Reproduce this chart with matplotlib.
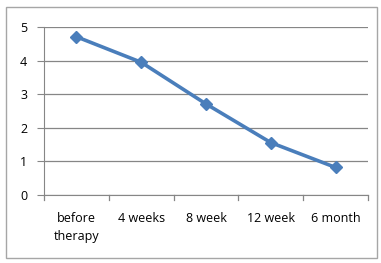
import matplotlib
matplotlib.use("Agg")
import matplotlib.pyplot as plt
from matplotlib.patches import Rectangle

categorias = ["before\ntherapy", "4 weeks", "8 week", "12 week", "6 month"]
valores = [4.71, 3.95, 2.71, 1.56, 0.82]

W, H = 381, 263
fig = plt.figure(figsize=(W / 100, H / 100), dpi=100)

# axes: x 44..368 px, y 27..195 px
ax = fig.add_axes([44 / W, 1 - 195 / H, (368 - 44) / W, (195 - 27) / H])

# outer frame
fig.patches.append(Rectangle((6 / W, 1 - 258 / H), (377 - 6) / W, (258 - 7) / H,
                             transform=fig.transFigure, fill=False,
                             edgecolor="#a6a6a6", linewidth=1))

x = list(range(len(categorias)))
ax.plot(x, valores, color="#4a7ebb", linewidth=2.6, marker="D", markersize=6.5,
        markeredgecolor="#4a7ebb", zorder=3)

ax.set_xlim(-0.5, len(categorias) - 0.5)
ax.set_ylim(0, 5)
ax.set_yticks([0, 1, 2, 3, 4, 5])
ax.set_xticks(x)
ax.set_xticklabels(categorias, fontsize=9, family="Open Sans", linespacing=1.55)
ax.tick_params(axis="x", length=0, pad=12)
ax.tick_params(axis="y", length=5, color="#868686", labelsize=9, pad=7)
for lbl in ax.get_yticklabels():
    lbl.set_family("Open Sans")

# tick marks between categories on bottom axis
for b in [i - 0.5 for i in range(len(categorias) + 1)]:
    ax.plot([b, b], [0, -0.15], color="#868686", linewidth=0.9, clip_on=False)

ax.grid(axis="y", color="#868686", linewidth=0.9)
ax.set_axisbelow(True)
for s in ["top", "right"]:
    ax.spines[s].set_visible(False)
ax.spines["left"].set_color("#868686")
ax.spines["bottom"].set_color("#868686")

fig.savefig("out.png", dpi=100)
